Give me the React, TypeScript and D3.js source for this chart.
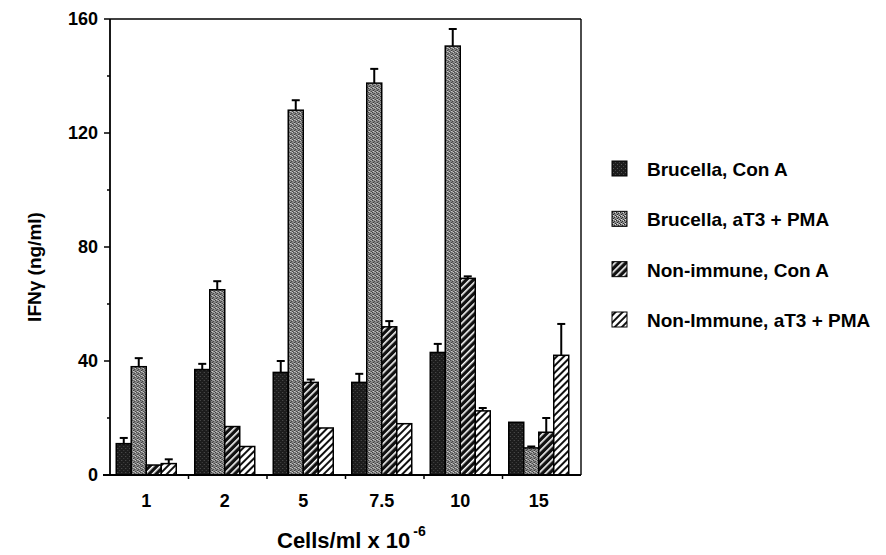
import React from "react";
import * as d3 from "d3";

const doses = ["1", "2", "5", "7.5", "10", "15"];
const seriesNames = [
  "Brucella, Con A",
  "Brucella, aT3 + PMA",
  "Non-immune, Con A",
  "Non-Immune, aT3 + PMA",
];
const brucellaConA = [11, 37, 36, 32.5, 43, 18.5];
const brucellaConAErr = [2, 2, 4, 3, 3, 0];
const brucellaAT3 = [38, 65, 128, 137.5, 150.5, 9.5];
const brucellaAT3Err = [3, 3, 3.5, 5, 6, 0.5];
const nonImmuneConA = [3.5, 17, 32.5, 52, 69, 15];
const nonImmuneConAErr = [0, 0, 1, 2, 0.7, 5];
const nonImmuneAT3 = [4, 10, 16.5, 18, 22.5, 42];
const nonImmuneAT3Err = [1.5, 0, 0, 0, 1, 11];
const yTicks = [0, 40, 80, 120, 160];
const yMinorTicks = [20, 60, 100, 140];

const values = [brucellaConA, brucellaAT3, nonImmuneConA, nonImmuneAT3];
const errors = [brucellaConAErr, brucellaAT3Err, nonImmuneConAErr, nonImmuneAT3Err];
const fills = ["url(#pDark)", "url(#pGray)", "url(#pHatchDark)", "url(#pHatchLight)"];

const W = 886;
const H = 555;
const left = 110;
const right = 581;
const top = 19;
const bottom = 475;
const font = "'Liberation Sans', Arial, Helvetica, sans-serif";

export default function App() {
  const x0 = d3.scaleBand<string>().domain(doses).range([left, right]);
  const groupW = 60;
  const x1 = d3.scaleBand<number>().domain(d3.range(seriesNames.length)).range([0, groupW]);
  const shift = (x0.bandwidth() - groupW) / 2 - 3;
  const y = d3.scaleLinear().domain([0, 160]).range([bottom, top]);
  const legendY = d3.scaleLinear().domain([0, 3]).range([176, 327]);

  return (
    <svg width={W} height={H} style={{ position: "absolute", left: 0, top: 0, background: "#fff" }}>
      <defs>
        <pattern id="pDark" width="4" height="4" patternUnits="userSpaceOnUse">
          <rect width="4" height="4" fill="#1c1c1c" />
          <rect x="1" y="0" width="1" height="1" fill="#555" />
          <rect x="3" y="2" width="1" height="1" fill="#444" />
        </pattern>
        <pattern id="pGray" width="4" height="4" patternUnits="userSpaceOnUse">
          <rect width="4" height="4" fill="#8a8a8a" />
          <rect x="0" y="0" width="1" height="1" fill="#222" />
          <rect x="2" y="1" width="1" height="1" fill="#333" />
          <rect x="1" y="2" width="1" height="1" fill="#222" />
          <rect x="3" y="3" width="1" height="1" fill="#333" />
          <rect x="3" y="0" width="1" height="1" fill="#ddd" />
          <rect x="1" y="3" width="1" height="1" fill="#ddd" />
        </pattern>
        <pattern id="pHatchDark" width="5" height="5" patternUnits="userSpaceOnUse" patternTransform="rotate(45)">
          <rect width="5" height="5" fill="#111" />
          <rect x="0" y="0" width="1.6" height="5" fill="#fff" />
        </pattern>
        <pattern id="pHatchLight" width="5" height="5" patternUnits="userSpaceOnUse" patternTransform="rotate(45)">
          <rect width="5" height="5" fill="#fff" />
          <rect x="0" y="0" width="2" height="5" fill="#111" />
        </pattern>
      </defs>

      {/* bars */}
      {doses.map((d, gi) => (
        <g key={d} transform={`translate(${(x0(d) as number) + shift},0)`}>
          {values.map((vals, si) => {
            const bx = x1(si) as number;
            const bw = x1.bandwidth();
            const v = vals[gi];
            const e = errors[si][gi];
            return (
              <g key={si}>
                <rect x={bx} y={y(v)} width={bw} height={y(0) - y(v)} fill={fills[si]} stroke="#000" strokeWidth={1.5} />
                {e > 0 && (
                  <g stroke="#000" strokeWidth={2}>
                    <line x1={bx + bw / 2} x2={bx + bw / 2} y1={y(v)} y2={y(v + e)} />
                    <line x1={bx + bw / 2 - 4} x2={bx + bw / 2 + 4} y1={y(v + e)} y2={y(v + e)} />
                  </g>
                )}
              </g>
            );
          })}
        </g>
      ))}

      {/* frame */}
      <g stroke="#000" strokeWidth={1.8} fill="none">
        <line x1={left} x2={left} y1={top} y2={bottom} />
        <line x1={left - 7} x2={right} y1={bottom} y2={bottom} />
        <line x1={left} x2={right} y1={top} y2={top} strokeWidth={1.4} />
        <line x1={right} x2={right} y1={top} y2={bottom} strokeWidth={1.4} />
      </g>

      {/* y ticks */}
      {yTicks.map((t) => (
        <g key={t}>
          <line x1={left - 6} x2={left} y1={y(t)} y2={y(t)} stroke="#000" strokeWidth={1.5} />
          <text x={left - 12} y={y(t) + 6} textAnchor="end" fontFamily={font} fontWeight="bold" fontSize={18}>
            {t}
          </text>
        </g>
      ))}
      {yMinorTicks.map((t) => (
        <line key={t} x1={left - 3} x2={left} y1={y(t)} y2={y(t)} stroke="#000" strokeWidth={1.5} />
      ))}

      {/* x ticks at group boundaries */}
      {doses.slice(1).map((d) => (
        <line key={d} x1={x0(d)} x2={x0(d)} y1={bottom} y2={bottom + 4} stroke="#000" strokeWidth={1.5} />
      ))}
      {doses.map((d) => (
        <text
          key={d}
          x={(x0(d) as number) + shift + groupW / 2}
          y={507}
          textAnchor="middle"
          fontFamily={font}
          fontWeight="bold"
          fontSize={18}
        >
          {d}
        </text>
      ))}

      {/* axis titles */}
      <text
        transform={`translate(41,${(top + bottom) / 2 + 20}) rotate(-90)`}
        textAnchor="middle"
        fontFamily={font}
        fontWeight="bold"
        fontSize={19}
      >
        IFNγ (ng/ml)
      </text>
      <text x={277} y={548} fontFamily={font} fontWeight="bold" fontSize={22}>
        Cells/ml x 10
        <tspan dx={3} dy={-12} fontSize={14}>
          -6
        </tspan>
      </text>

      {/* legend */}
      {seriesNames.map((s, i) => {
        const by = legendY(i);
        return (
          <g key={s}>
            <rect x={612} y={by - 15} width={15} height={15} fill={fills[i]} stroke="#000" strokeWidth={1} />
            <text x={647} y={by} fontFamily={font} fontWeight="bold" fontSize={19}>
              {s}
            </text>
          </g>
        );
      })}
    </svg>
  );
}
